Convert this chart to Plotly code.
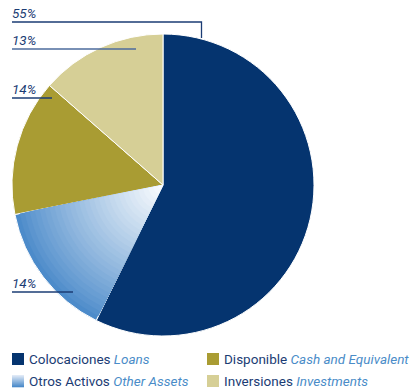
import plotly.graph_objects as go

# Asset composition (percent)
labels_es = ["Colocaciones", "Otros Activos", "Disponible", "Inversiones"]
labels_en = ["Loans", "Other Assets", "Cash and Equivalent", "Investments"]
values = [55, 14, 14, 13]
colors = ["#05346f", "#4c8bca", "#a99c33", "#d6cf96"]

W, H = 414, 392
CX, CY, R = 163, 185, 151  # pie centre and radius in pixels

NAVY = "#1b3c74"
LIGHT = "#4a8cc8"
FONT = "Roboto"


def px(x):
    return x / W


def py(y):
    return 1 - y / H


def domain(r):
    return dict(x=[px(CX - r), px(CX + r)], y=[py(CY + r), py(CY - r)])


def mix(c1, c2, t):
    a = [int(c1[i:i + 2], 16) for i in (1, 3, 5)]
    b = [int(c2[i:i + 2], 16) for i in (1, 3, 5)]
    return "rgb(%d,%d,%d)" % tuple(round(a[k] + (b[k] - a[k]) * t) for k in range(3))


fig = go.Figure()

fig.add_trace(go.Pie(
    labels=labels_es, values=values, sort=False, direction="clockwise",
    rotation=0, domain=domain(R), textinfo="none", showlegend=False,
    marker=dict(colors=colors, line=dict(color="white", width=1)),
    hoverinfo="label+percent",
))

# Shade the "Otros Activos" slice from blue at the rim to white at the centre
steps = 30
for k in range(1, steps):
    r = R * (1 - k / steps)
    shade = mix(colors[1], "#ffffff", (k / steps) ** 0.9)
    slice_colors = ["rgba(0,0,0,0)", shade, "rgba(0,0,0,0)", "rgba(0,0,0,0)"]
    fig.add_trace(go.Pie(
        labels=labels_es, values=values, sort=False, direction="clockwise",
        rotation=0, domain=domain(r), textinfo="none", showlegend=False,
        marker=dict(colors=slice_colors, line=dict(width=0)),
        hoverinfo="skip",
    ))

shapes = []
annotations = []

# Percentage labels with leader lines
pct_labels = [
    dict(text="%d%%" % values[0], ty=13, path=[(12, 22), (201.5, 22), (201.5, 38)], color=NAVY),
    dict(text="%d%%" % values[3], ty=40, path=[(12, 49), (136, 49)], color="#4d6b9c"),
    dict(text="%d%%" % values[2], ty=89, path=[(12, 98), (52, 98)], color=NAVY),
    dict(text="%d%%" % values[1], ty=283, path=[(12, 292), (73, 292)], color=NAVY),
]
for lab in pct_labels:
    annotations.append(dict(
        x=px(10), y=py(lab["ty"]), xref="paper", yref="paper",
        xanchor="left", yanchor="middle", showarrow=False,
        text="<i>%s</i>" % lab["text"],
        font=dict(family=FONT, size=13.5, color=NAVY),
    ))
    pts = lab["path"]
    d = "M %f %f " % (px(pts[0][0]), py(pts[0][1]))
    d += " ".join("L %f %f" % (px(x), py(y)) for x, y in pts[1:])
    shapes.append(dict(type="path", path=d, xref="paper", yref="paper",
                       line=dict(color=lab["color"], width=1.3)))

# Legend, two columns
legend_pos = [(12, 359), (12, 381), (207, 359), (207, 381)]
for i, (lx, ly) in enumerate(legend_pos):
    sq = 12
    if i == 1:
        n = 12
        for j in range(n):
            y0 = ly - sq / 2 + sq * j / n
            y1 = ly - sq / 2 + sq * (j + 1) / n
            shapes.append(dict(type="rect", xref="paper", yref="paper",
                               x0=px(lx), x1=px(lx + sq), y0=py(y0), y1=py(y1 + 0.3),
                               fillcolor=mix("#dfe9f6", colors[1], j / (n - 1)),
                               line=dict(width=0)))
    else:
        shapes.append(dict(type="rect", xref="paper", yref="paper",
                           x0=px(lx), x1=px(lx + sq), y0=py(ly - sq / 2), y1=py(ly + sq / 2),
                           fillcolor=colors[i], line=dict(width=0)))
    annotations.append(dict(
        x=px(lx + 15), y=py(ly), xref="paper", yref="paper",
        xanchor="left", yanchor="middle", showarrow=False,
        text="%s <i><span style='color:%s'>%s</span></i>" % (labels_es[i], LIGHT, labels_en[i]),
        font=dict(family=FONT, size=13.5, color=NAVY),
    ))

fig.update_layout(
    width=W, height=H,
    margin=dict(l=0, r=0, t=0, b=0),
    paper_bgcolor="white", plot_bgcolor="white",
    shapes=shapes, annotations=annotations,
    showlegend=False,
)

fig.write_html("out.html")
